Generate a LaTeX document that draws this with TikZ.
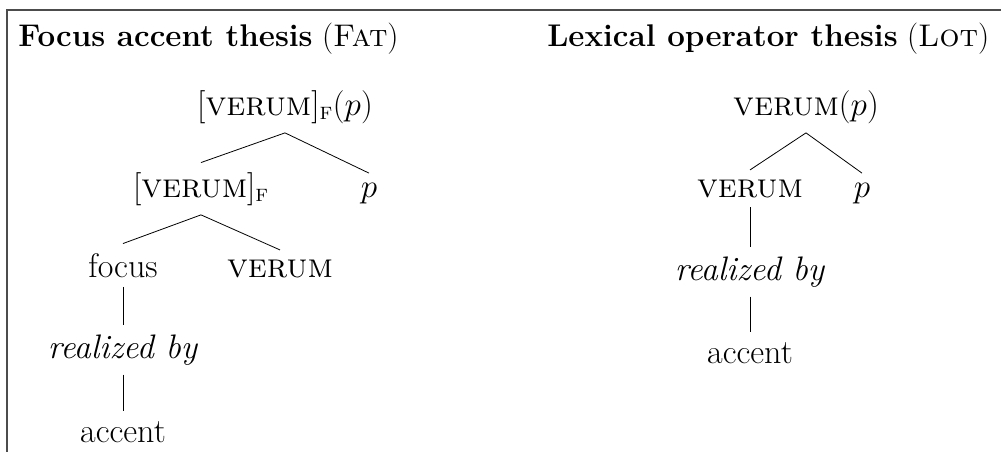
\documentclass[tikz,border=0pt]{standalone}
\usepackage{amsmath}
\usepackage{fontspec}

\begin{document}
\begin{tikzpicture}[
  x=0.75pt, y=-0.75pt,
  word/.style={anchor=base, inner sep=7pt, font=\fontsize{25.5}{30}\selectfont},
  heading/.style={anchor=base west, inner sep=0pt, font=\fontsize{23.5}{28}\selectfont},
  branch/.style={line width=0.6pt}
]
\useasboundingbox (0,0) rectangle (1001,451);
\draw[black!70, line width=0.8pt] (7,10) rectangle (1020,470);

% FAT
\node[heading] (fathead) at (18,46) {\textbf{Focus accent thesis} (\textsc{Fat})};
\node[word] (fatroot) at (285,115) {$[\text{\textsc{verum}}]_{\text{\textsc{f}}}(p)$};
\node[word] (fatop) at (201,197) {$[\text{\textsc{verum}}]_{\text{\textsc{f}}}$};
\node[word] (fatp) at (369,197) {$p$};
\node[word] (focus) at (123,277) {focus};
\node[word] (fatverum) at (280,277) {\textsc{verum}};
\node[word] (fatreal) at (123,358) {\textit{realized by}};
\node[word] (fataccent) at (123,442) {accent};

\draw[branch] (fatroot.south) -- (fatop.north);
\draw[branch] (fatroot.south) -- (fatp.north);
\draw[branch] (fatop.south) -- (focus.north);
\draw[branch] (fatop.south) -- (fatverum.north);
\draw[branch] (focus) -- (fatreal);
\draw[branch] (fatreal) -- (fataccent);

% LOT
\node[heading] (lothead) at (547,46) {\textbf{Lexical operator thesis} (\textsc{Lot})};
\node[word] (lotroot) at (806,115) {\textsc{verum}$(p)$};
\node[word] (lotverum) at (750,197) {\textsc{verum}};
\node[word] (lotp) at (862,197) {$p$};
\node[word] (lotreal) at (750,280) {\textit{realized by}};
\node[word] (lotaccent) at (750,363) {accent};

\draw[branch] (lotroot.south) -- (lotverum.north);
\draw[branch] (lotroot.south) -- (lotp.north);
\draw[branch] (lotverum) -- (lotreal);
\draw[branch] (lotreal) -- (lotaccent);
\end{tikzpicture}
\end{document}
